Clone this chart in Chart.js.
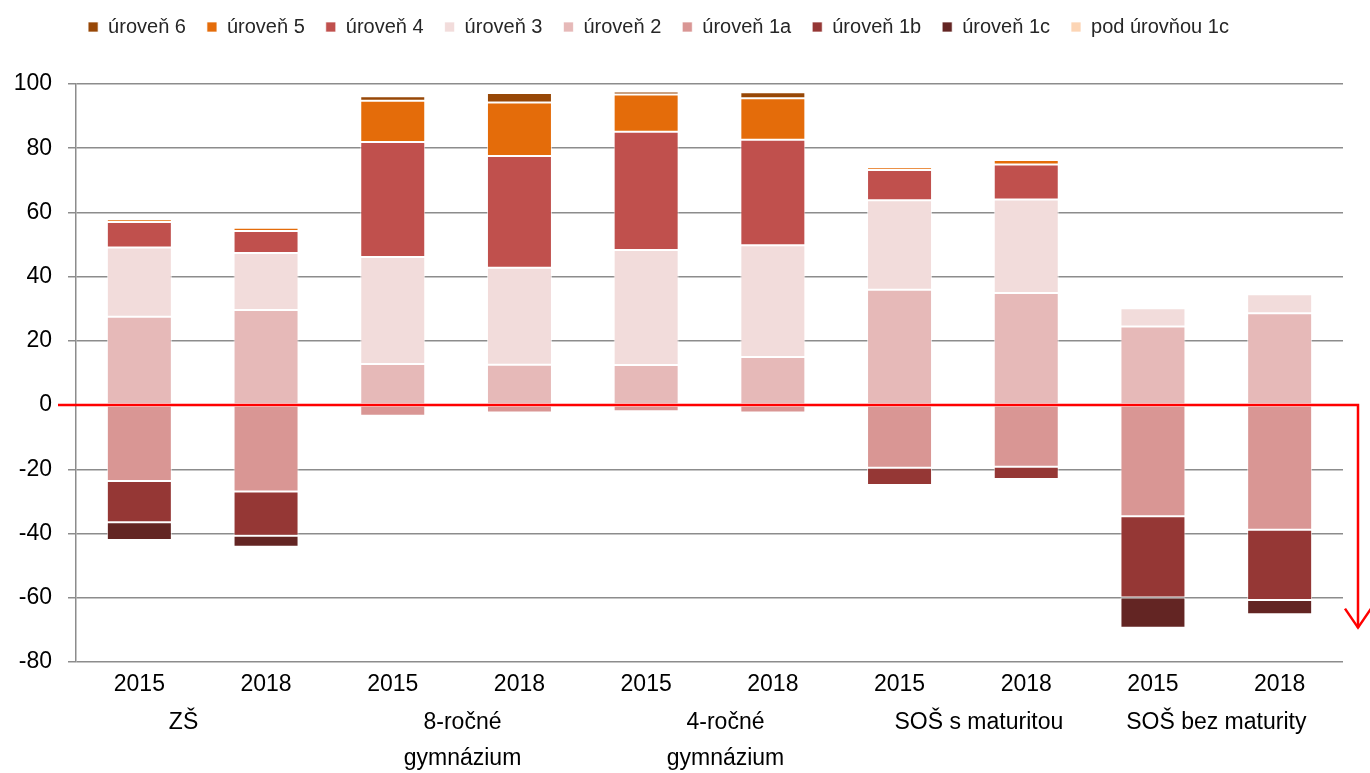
<!DOCTYPE html>
<html>
<head>
<meta charset="utf-8">
<script src="https://cdn.jsdelivr.net/npm/chart.js@4"></script>
<style>
  html, body { margin: 0; padding: 0; background: #ffffff; }
  #wrap { width: 1370px; height: 773px; position: relative; }
</style>
</head>
<body>
<div id="wrap"><canvas id="c" width="1370" height="773"></canvas></div>
<script>
// ---- data ----
const years = ['2015', '2018', '2015', '2018', '2015', '2018', '2015', '2018', '2015', '2018'];
const groups = [['ZŠ      '], ['  8-ročné', '  gymnázium'], ['     4-ročné', '     gymnázium'], ['     SOŠ s maturitou'], ['SOŠ bez maturity']];
const yTicks = [-80, -60, -40, -20, 0, 20, 40, 60, 80, 100];

const level2  = [27.5, 29.6, 12.8, 12.6, 12.5, 15.0, 35.9, 34.9, 24.5, 28.6];
const level3  = [21.6, 17.8, 33.3, 30.2, 35.8, 34.8, 27.9, 29.1,  5.7,  5.9];
const level4  = [ 7.9,  6.8, 35.8, 34.8, 36.8, 32.8,  9.4, 10.9,  0.3,  0.2];
const level5  = [ 0.9,  1.0, 12.9, 16.6, 11.6, 13.0,  0.9,  1.4,  0,    0  ];
const level6  = [ 0.2,  0.2,  1.4,  3.0,  1.0,  1.8,  0.1,  0.1,  0,    0  ];
const level1a = [-23.6, -26.9, -3.3, -2.3, -1.9, -2.3, -19.5, -19.2, -34.6, -38.8];
const level1b = [-12.9, -13.8, -0.5, -0.5, -0.1, -0.1,  -5.4,  -3.8, -25.3, -21.9];
const level1c = [ -5.5,  -3.4,  0,    0,    0,    0,    -0.6,  -0.2,  -9.4,  -4.4];
const below1c = [ -0.1,  -0.3,  0,    0,    0,    0,     0,     0,    -0.2,  -0.2];

const seriesNames = ['úroveň 2', 'úroveň 3', 'úroveň 4', 'úroveň 5', 'úroveň 6', 'úroveň 1a', 'úroveň 1b', 'úroveň 1c', 'pod úrovňou 1c'];
const seriesColors = ['#E6B9B8', '#F2DCDB', '#C0504D', '#E46C0A', '#974706', '#D99694', '#953735', '#632523', '#FCD5B5'];
const seriesData = [level2, level3, level4, level5, level6, level1a, level1b, level1c, below1c];
const legendRank = [4, 3, 2, 1, 0, 5, 6, 7, 8];

const FONT = "'Liberation Sans', Arial, sans-serif";

const datasets = seriesData.map((d, i) => ({
  label: seriesNames[i],
  data: d,
  backgroundColor: seriesColors[i],
  borderColor: 'rgba(255,255,255,0.7)',
  borderWidth: 1,
  borderSkipped: false,
  categoryPercentage: 1.0,
  barPercentage: 0.513
}));

const arrowPlugin = {
  id: 'zeroArrow',
  afterDatasetsDraw(chart) {
    const ctx = chart.ctx;
    const y0 = chart.scales.y.getPixelForValue(0);
    const yEnd = chart.scales.y.getPixelForValue(-69.3);
    const xStart = chart.chartArea.left - 18;
    const xEnd = chart.chartArea.right + 15;
    ctx.save();
    ctx.strokeStyle = '#FF0000';
    ctx.lineWidth = 2.5;
    ctx.lineJoin = 'miter';
    ctx.beginPath();
    ctx.moveTo(xStart, y0);
    ctx.lineTo(xEnd, y0);
    ctx.lineTo(xEnd, yEnd);
    ctx.stroke();
    ctx.beginPath();
    ctx.moveTo(xEnd - 13, yEnd - 19);
    ctx.lineTo(xEnd, yEnd);
    ctx.lineTo(xEnd + 13, yEnd - 19);
    ctx.stroke();
    ctx.restore();
  }
};

const legendTweak = {
  id: 'legendTweak',
  beforeInit(chart) {
    const lg = chart.legend;
    if (!lg) return;
    const fit = lg.fit;
    lg.fit = function () { fit.call(this); this.height += 29; };
  },
  afterLayout(chart) {
    const lg = chart.legend;
    if (!lg) return;
    lg.left -= 19; lg.right -= 19;
    lg.top -= 8; lg.bottom -= 8;
  }
};

new Chart(document.getElementById('c'), {
  type: 'bar',
  data: { labels: years, datasets: datasets },
  plugins: [arrowPlugin, legendTweak],
  options: {
    responsive: false,
    animation: false,
    layout: { padding: { left: 12, right: 27, top: 4, bottom: 0 } },
    plugins: {
      tooltip: { enabled: false },
      legend: {
        position: 'top',
        align: 'center',
        labels: {
          boxWidth: 10,
          boxHeight: 10,
          padding: 21,
          color: '#262626',
          font: { family: FONT, size: 20 },
          sort: (a, b) => legendRank[a.datasetIndex] - legendRank[b.datasetIndex]
        }
      }
    },
    scales: {
      x: {
        stacked: true,
        afterFit: (scale) => { scale.height = 36; },
        grid: { display: false, drawTicks: false },
        border: { display: false },
        ticks: { color: '#000000', font: { family: FONT, size: 23 }, padding: 9 }
      },
      x2: {
        type: 'category',
        position: 'bottom',
        labels: groups,
        offset: true,
        afterFit: (scale) => { scale.height = 75; },
        grid: { display: false, drawTicks: false },
        border: { display: false },
        ticks: { color: '#000000', font: { family: FONT, size: 23, lineHeight: 1.56 }, padding: 7 }
      },
      y: {
        stacked: true,
        min: -80,
        max: 100,
        afterBuildTicks: (scale) => { scale.ticks = yTicks.map(v => ({ value: v })); },
        afterFit: (scale) => { scale.width = 64; },
        grid: { color: '#8C8C8C', lineWidth: 1.5, tickLength: 8, drawTicks: true },
        border: { display: true, color: '#8C8C8C', width: 1.5 },
        ticks: { color: '#000000', font: { family: FONT, size: 23 }, padding: 16 }
      }
    }
  }
});
</script>
</body>
</html>
